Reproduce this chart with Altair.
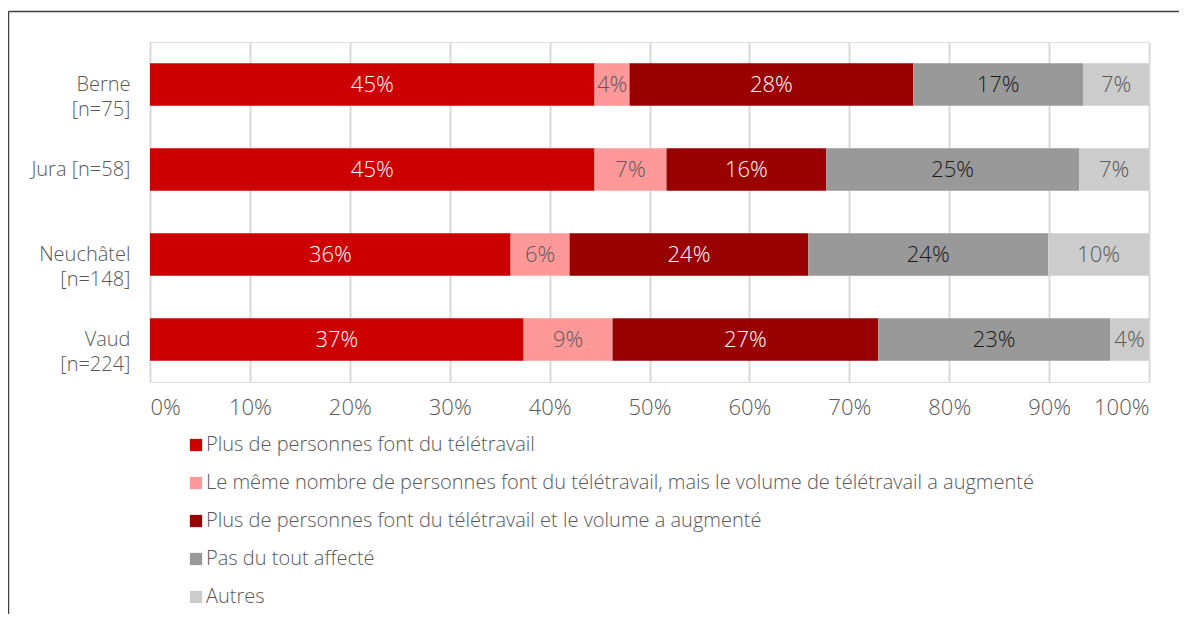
import altair as alt
import pandas as pd

regions = ["Berne|[n=75]", "Jura [n=58]", "Neuchâtel|[n=148]", "Vaud|[n=224]"]

categories = [
    "Plus de personnes font du télétravail",
    "Le même nombre de personnes font du télétravail, mais le volume de télétravail a augmenté",
    "Plus de personnes font du télétravail et le volume a augmenté",
    "Pas du tout affecté",
    "Autres",
]
colors = ["#CC0000", "#FF9999", "#990000", "#999999", "#CCCCCC"]
text_colors = ["#FFFFFF", "#595959", "#FFFFFF", "#1A1A1A", "#595959"]

# shares (%) per region, in category order
berne = [44.5, 3.5, 28.4, 17.0, 6.6]
jura = [44.5, 7.2, 16.0, 25.3, 7.0]
neuchatel = [36.1, 5.9, 23.9, 24.0, 10.1]
vaud = [37.4, 8.9, 26.6, 23.2, 3.9]

# printed labels
berne_lbl = ["45%", "4%", "28%", "17%", "7%"]
jura_lbl = ["45%", "7%", "16%", "25%", "7%"]
neuchatel_lbl = ["36%", "6%", "24%", "24%", "10%"]
vaud_lbl = ["37%", "9%", "27%", "23%", "4%"]

ticks = [0, 10, 20, 30, 40, 50, 60, 70, 80, 90, 100]

values = [berne, jura, neuchatel, vaud]
labels = [berne_lbl, jura_lbl, neuchatel_lbl, vaud_lbl]

rows = []
for r, vals, lbls in zip(regions, values, labels):
    for i, (c, v, l) in enumerate(zip(categories, vals, lbls)):
        rows.append({"region": r, "cat": c, "order": i, "value": v,
                     "label": l, "tcolor": text_colors[i]})
df = pd.DataFrame(rows)

FONT = "Open Sans"

base = alt.Chart(df).transform_stack(
    stack="value", groupby=["region"], as_=["x0", "x1"],
    sort=[alt.SortField("order", order="ascending")]
).transform_calculate(mid="(datum.x0 + datum.x1) / 2")

y_enc = alt.Y(
    "region:N", sort=regions, title=None,
    scale=alt.Scale(paddingInner=0.5, paddingOuter=0.25),
    axis=alt.Axis(labelExpr="split(datum.label, '|')", labelFont=FONT,
                  labelFontSize=20, labelFontWeight=300, labelColor="#595959",
                  labelLineHeight=25, labelPadding=20, ticks=False, domain=False,
                  grid=False, labelLimit=300),
)

bars = base.mark_bar().encode(
    y=y_enc,
    x=alt.X("x0:Q", scale=alt.Scale(domain=[0, 100], nice=False), title=None,
            axis=alt.Axis(values=ticks, labelExpr="datum.value + '%'", labelFont=FONT,
                          labelFontSize=22, labelFontWeight=300, labelColor="#595959",
                          labelPadding=15, ticks=False, domain=False,
                          grid=True, gridColor="#D9D9D9", gridWidth=2)),
    x2="x1:Q",
    color=alt.Color("cat:N", scale=alt.Scale(domain=categories, range=colors),
                    legend=alt.Legend(orient="none", legendX=36, legendY=393,
                                      direction="vertical", title=None,
                                      symbolType="square", symbolSize=150,
                                      symbolStrokeWidth=0, symbolOpacity=1,
                                      labelFont=FONT, labelFontSize=20,
                                      labelFontWeight=300, labelColor="#595959",
                                      labelLimit=1000, rowPadding=18,
                                      labelOffset=0)),
)

text = base.mark_text(font=FONT, fontSize=22, fontWeight=300).encode(
    y=alt.Y("region:N", sort=regions),
    x=alt.X("mid:Q"),
    text="label:N",
    fill=alt.Fill("tcolor:N", scale=None),
)

frame_df = pd.DataFrame({"f": [0]})
frame_left = alt.Chart(frame_df).mark_rule(color="#404040", strokeWidth=1.5).encode(
    x=alt.value(-141.5), y=alt.value(-30.5), y2=alt.value(700))
frame_top = alt.Chart(frame_df).mark_rule(color="#404040", strokeWidth=1.5).encode(
    x=alt.value(-141.5), x2=alt.value(1200), y=alt.value(-30.5))

chart = alt.layer(bars, text, frame_left, frame_top).properties(
    width=999, height=340,
    padding={"left": 142, "top": 34, "right": 30, "bottom": 232},
    autosize="none",
).configure_view(stroke=None).configure(background="white")

chart.save("out.html", embed_options={"renderer": "svg", "actions": False})
